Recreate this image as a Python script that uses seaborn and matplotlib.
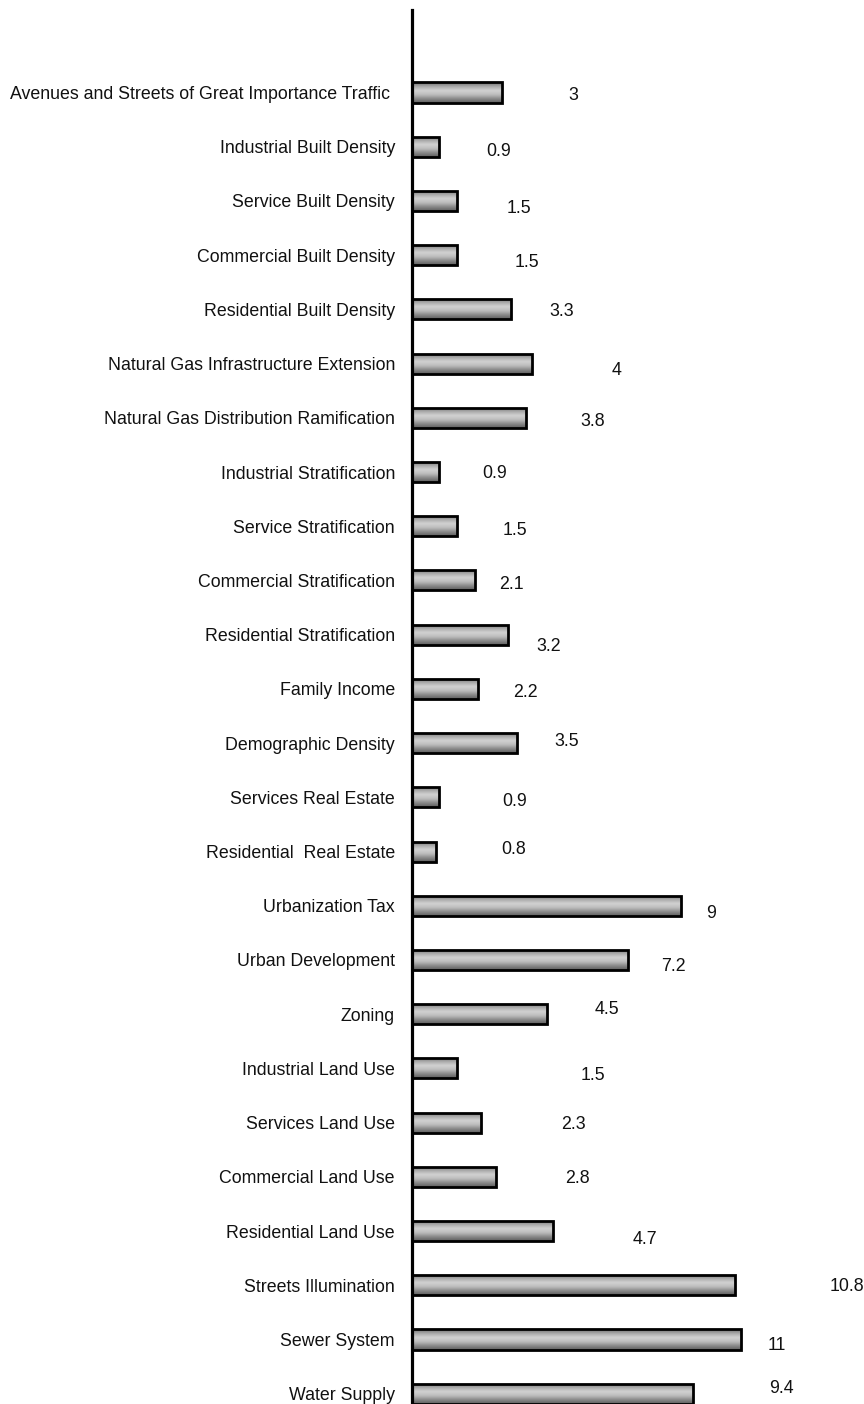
import numpy as np
import pandas as pd
import matplotlib
matplotlib.use("Agg")
import matplotlib.pyplot as plt
import seaborn as sns
from matplotlib.colors import LinearSegmentedColormap

categories = [
    "Avenues and Streets of Great Importance Traffic ",
    "Industrial Built Density",
    "Service Built Density",
    "Commercial Built Density",
    "Residential Built Density",
    "Natural Gas Infrastructure Extension",
    "Natural Gas Distribution Ramification",
    "Industrial Stratification",
    "Service Stratification",
    "Commercial Stratification",
    "Residential Stratification",
    "Family Income",
    "Demographic Density",
    "Services Real Estate",
    "Residential  Real Estate",
    "Urbanization Tax",
    "Urban Development",
    "Zoning",
    "Industrial Land Use",
    "Services Land Use",
    "Commercial Land Use",
    "Residential Land Use",
    "Streets Illumination",
    "Sewer System",
    "Water Supply",
]
values = [3, 0.9, 1.5, 1.5, 3.3, 4, 3.8, 0.9, 1.5, 2.1, 3.2, 2.2, 3.5, 0.9, 0.8,
          9, 7.2, 4.5, 1.5, 2.3, 2.8, 4.7, 10.8, 11, 9.4]
value_labels = ["3", "0.9", "1.5", "1.5", "3.3", "4", "3.8", "0.9", "1.5", "2.1",
                "3.2", "2.2", "3.5", "0.9", "0.8", "9", "7.2", "4.5", "1.5", "2.3",
                "2.8", "4.7", "10.8", "11", "9.4"]

# label placement offsets (pixels) from the bar end, as in the original layout
label_dx = [71, 60, 62, 70, 51, 85, 67, 56, 58, 37, 41, 48, 50, 76, 78, 30, 46, 60,
            136, 93, 82, 92, 112, 36, 88]
label_dy = [1, 2.5, 5.5, 5, 0, 4.5, 1.7, -1, 2, 2.5, 10.3, 1.7, -3.6, 2.5, -4, 6, 5,
            -7, 4.7, 0, 0, 6, -1, 4.3, -6.7]

df = pd.DataFrame({"category": categories, "value": values})

sns.set_theme(style="white")
FONT = ["Liberation Sans", "DejaVu Sans"]
plt.rcParams["font.family"] = FONT
FS = 12.8

fig = plt.figure(figsize=(8.64, 14.04), dpi=100)
ax = fig.add_axes([412 / 864, 0.0, 452 / 864, 1 - 10 / 1404])

sns.barplot(data=df, y="category", x="value", orient="h", ax=ax,
            color="#b0b0b0", edgecolor="black", linewidth=2.0, width=0.37,
            saturation=1)

cmap = LinearSegmentedColormap.from_list(
    "bargrad", ["#6f6f6f", "#a8a8a8", "#d2d2d2", "#bdbdbd", "#8a8a8a", "#5f5f5f"])
grad = np.linspace(0, 1, 64).reshape(-1, 1)

for p in ax.patches:
    x0, y0 = p.get_x(), p.get_y()
    w, h = p.get_width(), p.get_height()
    p.set_facecolor("none")
    p.set_zorder(3)
    im = ax.imshow(grad, cmap=cmap, aspect="auto", interpolation="bicubic",
                   extent=[x0, x0 + w, y0 + h, y0], zorder=2, origin="upper")
    im.set_clip_path(p)

ax.set_xlim(0, 15.1)
ax.set_ylim(24.19, -1.522)

for i, (v, lab) in enumerate(zip(values, value_labels)):
    ax.annotate(lab, xy=(v, i), xytext=(label_dx[i], -label_dy[i]),
                textcoords="offset pixels", ha="center", va="center_baseline",
                fontsize=FS, family=FONT, color="#111111")

ax.set_xlabel("")
ax.set_ylabel("")
ax.set_xticks([])
ax.tick_params(axis="y", length=0, pad=12.3, labelsize=FS, labelcolor="#111111")
for lbl in ax.get_yticklabels():
    lbl.set_family(FONT)

for s in ["top", "right", "bottom"]:
    ax.spines[s].set_visible(False)
ax.spines["left"].set_linewidth(2.3)
ax.spines["left"].set_color("black")
ax.spines["left"].set_zorder(4)

fig.savefig("out.png", dpi=100, facecolor="white")
